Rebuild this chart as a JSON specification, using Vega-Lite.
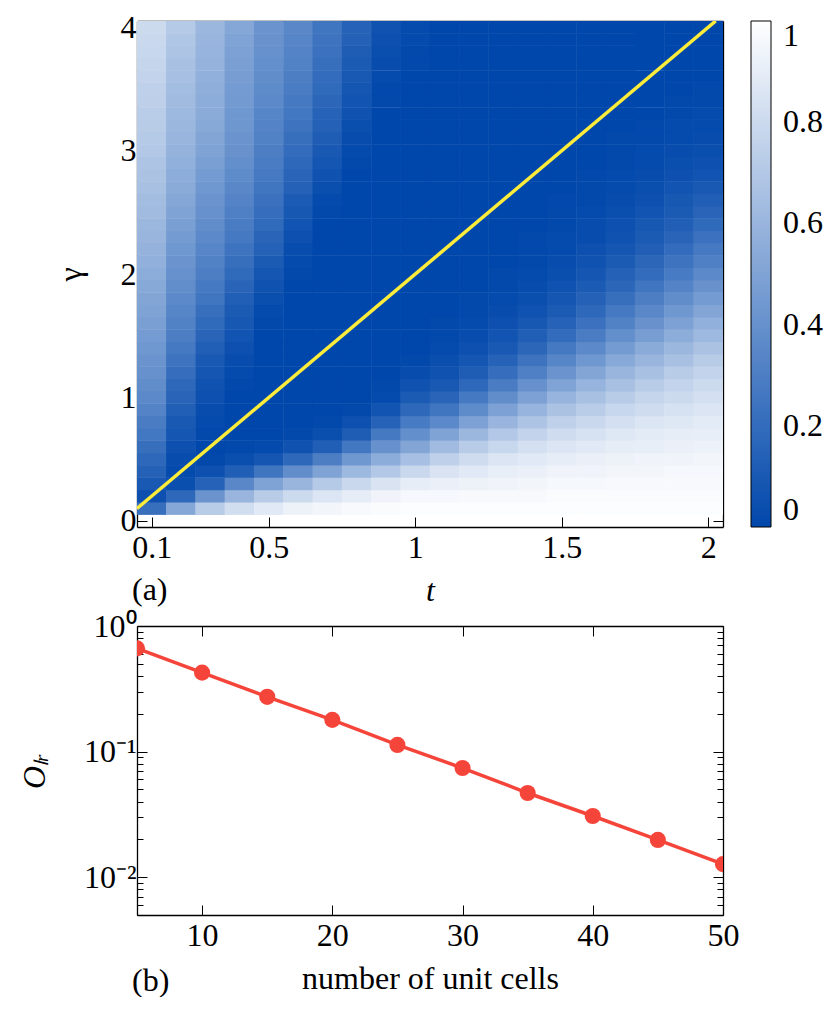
{
"$schema": "https://vega.github.io/schema/vega-lite/v6.json",
"padding": {"left": 18, "top": 11, "right": 0, "bottom": 0},
"background": "white",
"spacing": 4,
"config": {
 "font": "Liberation Serif",
 "view": {"stroke": null},
 "axis": {"grid": false, "domainColor": "black", "domainWidth": 1.3, "tickColor": "black", "tickWidth": 1, "labelFont": "Liberation Serif", "labelFontSize": 32, "labelColor": "black", "titleFont": "Liberation Serif", "titleFontSize": 32, "titleFontWeight": "normal", "titleColor": "black", "zindex": 2, "labelFlush": false, "labelOverlap": false},
 "title": {"font": "Liberation Serif", "fontSize": 32, "fontWeight": "normal", "color": "black"}
},
"datasets": {
"decay": [{"n":5,"o":0.664},{"n":10,"o":0.425},{"n":15,"o":0.273},{"n":20,"o":0.179},{"n":25,"o":0.113},{"n":30,"o":0.074},{"n":35,"o":0.0468},{"n":40,"o":0.0307},{"n":45,"o":0.0198},{"n":50,"o":0.0127}],
"diag": [{"t":0.05,"g":0.1},{"t":2.025,"g":4.05}],
"heat": [
{"t":0.1,"g":0.1,"v":0.22},{"t":0.1,"g":0.2,"v":0.05},{"t":0.1,"g":0.3,"v":0.1},{"t":0.1,"g":0.4,"v":0.14},{"t":0.1,"g":0.5,"v":0.18},{"t":0.1,"g":0.6,"v":0.22},{"t":0.1,"g":0.7,"v":0.26},{"t":0.1,"g":0.8,"v":0.29},{"t":0.1,"g":0.9,"v":0.33},{"t":0.1,"g":1,"v":0.36},
{"t":0.1,"g":1.1,"v":0.38},{"t":0.1,"g":1.2,"v":0.4},{"t":0.1,"g":1.3,"v":0.42},{"t":0.1,"g":1.4,"v":0.44},{"t":0.1,"g":1.5,"v":0.46},{"t":0.1,"g":1.6,"v":0.48},{"t":0.1,"g":1.7,"v":0.5},{"t":0.1,"g":1.8,"v":0.51},{"t":0.1,"g":1.9,"v":0.53},{"t":0.1,"g":2,"v":0.55},
{"t":0.1,"g":2.1,"v":0.57},{"t":0.1,"g":2.2,"v":0.58},{"t":0.1,"g":2.3,"v":0.6},{"t":0.1,"g":2.4,"v":0.61},{"t":0.1,"g":2.5,"v":0.63},{"t":0.1,"g":2.6,"v":0.64},{"t":0.1,"g":2.7,"v":0.66},{"t":0.1,"g":2.8,"v":0.67},{"t":0.1,"g":2.9,"v":0.68},{"t":0.1,"g":3,"v":0.7},
{"t":0.1,"g":3.1,"v":0.71},{"t":0.1,"g":3.2,"v":0.72},{"t":0.1,"g":3.3,"v":0.73},{"t":0.1,"g":3.4,"v":0.74},{"t":0.1,"g":3.5,"v":0.75},{"t":0.1,"g":3.6,"v":0.76},{"t":0.1,"g":3.7,"v":0.77},{"t":0.1,"g":3.8,"v":0.78},{"t":0.1,"g":3.9,"v":0.79},{"t":0.1,"g":4,"v":0.8},
{"t":0.2,"g":0.1,"v":0.52},{"t":0.2,"g":0.2,"v":0.18},{"t":0.2,"g":0.3,"v":0.04},{"t":0.2,"g":0.4,"v":0.02},{"t":0.2,"g":0.5,"v":0.03},{"t":0.2,"g":0.6,"v":0.05},{"t":0.2,"g":0.7,"v":0.08},{"t":0.2,"g":0.8,"v":0.1},{"t":0.2,"g":0.9,"v":0.13},{"t":0.2,"g":1,"v":0.16},
{"t":0.2,"g":1.1,"v":0.18},{"t":0.2,"g":1.2,"v":0.21},{"t":0.2,"g":1.3,"v":0.24},{"t":0.2,"g":1.4,"v":0.27},{"t":0.2,"g":1.5,"v":0.3},{"t":0.2,"g":1.6,"v":0.32},{"t":0.2,"g":1.7,"v":0.34},{"t":0.2,"g":1.8,"v":0.36},{"t":0.2,"g":1.9,"v":0.38},{"t":0.2,"g":2,"v":0.4},
{"t":0.2,"g":2.1,"v":0.42},{"t":0.2,"g":2.2,"v":0.44},{"t":0.2,"g":2.3,"v":0.46},{"t":0.2,"g":2.4,"v":0.48},{"t":0.2,"g":2.5,"v":0.5},{"t":0.2,"g":2.6,"v":0.52},{"t":0.2,"g":2.7,"v":0.54},{"t":0.2,"g":2.8,"v":0.55},{"t":0.2,"g":2.9,"v":0.57},{"t":0.2,"g":3,"v":0.58},
{"t":0.2,"g":3.1,"v":0.6},{"t":0.2,"g":3.2,"v":0.61},{"t":0.2,"g":3.3,"v":0.62},{"t":0.2,"g":3.4,"v":0.63},{"t":0.2,"g":3.5,"v":0.64},{"t":0.2,"g":3.6,"v":0.65},{"t":0.2,"g":3.7,"v":0.66},{"t":0.2,"g":3.8,"v":0.68},{"t":0.2,"g":3.9,"v":0.69},{"t":0.2,"g":4,"v":0.71},
{"t":0.3,"g":0.1,"v":0.72},{"t":0.3,"g":0.2,"v":0.42},{"t":0.3,"g":0.3,"v":0.15},{"t":0.3,"g":0.4,"v":0.05},{"t":0.3,"g":0.5,"v":0.01},{"t":0.3,"g":0.6,"v":0},{"t":0.3,"g":0.7,"v":0.01},{"t":0.3,"g":0.8,"v":0.02},{"t":0.3,"g":0.9,"v":0.03},{"t":0.3,"g":1,"v":0.05},
{"t":0.3,"g":1.1,"v":0.06},{"t":0.3,"g":1.2,"v":0.08},{"t":0.3,"g":1.3,"v":0.1},{"t":0.3,"g":1.4,"v":0.13},{"t":0.3,"g":1.5,"v":0.16},{"t":0.3,"g":1.6,"v":0.19},{"t":0.3,"g":1.7,"v":0.22},{"t":0.3,"g":1.8,"v":0.25},{"t":0.3,"g":1.9,"v":0.27},{"t":0.3,"g":2,"v":0.3},
{"t":0.3,"g":2.1,"v":0.32},{"t":0.3,"g":2.2,"v":0.34},{"t":0.3,"g":2.3,"v":0.36},{"t":0.3,"g":2.4,"v":0.38},{"t":0.3,"g":2.5,"v":0.4},{"t":0.3,"g":2.6,"v":0.42},{"t":0.3,"g":2.7,"v":0.44},{"t":0.3,"g":2.8,"v":0.46},{"t":0.3,"g":2.9,"v":0.48},{"t":0.3,"g":3,"v":0.5},
{"t":0.3,"g":3.1,"v":0.51},{"t":0.3,"g":3.2,"v":0.53},{"t":0.3,"g":3.3,"v":0.54},{"t":0.3,"g":3.4,"v":0.55},{"t":0.3,"g":3.5,"v":0.56},{"t":0.3,"g":3.6,"v":0.57},{"t":0.3,"g":3.7,"v":0.58},{"t":0.3,"g":3.8,"v":0.59},{"t":0.3,"g":3.9,"v":0.6},{"t":0.3,"g":4,"v":0.61},
{"t":0.4,"g":0.1,"v":0.82},{"t":0.4,"g":0.2,"v":0.6},{"t":0.4,"g":0.3,"v":0.35},{"t":0.4,"g":0.4,"v":0.13},{"t":0.4,"g":0.5,"v":0.04},{"t":0.4,"g":0.6,"v":0.01},{"t":0.4,"g":0.7,"v":0},{"t":0.4,"g":0.8,"v":0},{"t":0.4,"g":0.9,"v":0},{"t":0.4,"g":1,"v":0},
{"t":0.4,"g":1.1,"v":0.01},{"t":0.4,"g":1.2,"v":0.02},{"t":0.4,"g":1.3,"v":0.03},{"t":0.4,"g":1.4,"v":0.05},{"t":0.4,"g":1.5,"v":0.07},{"t":0.4,"g":1.6,"v":0.09},{"t":0.4,"g":1.7,"v":0.11},{"t":0.4,"g":1.8,"v":0.13},{"t":0.4,"g":1.9,"v":0.16},{"t":0.4,"g":2,"v":0.19},
{"t":0.4,"g":2.1,"v":0.22},{"t":0.4,"g":2.2,"v":0.24},{"t":0.4,"g":2.3,"v":0.27},{"t":0.4,"g":2.4,"v":0.29},{"t":0.4,"g":2.5,"v":0.31},{"t":0.4,"g":2.6,"v":0.33},{"t":0.4,"g":2.7,"v":0.35},{"t":0.4,"g":2.8,"v":0.37},{"t":0.4,"g":2.9,"v":0.39},{"t":0.4,"g":3,"v":0.41},
{"t":0.4,"g":3.1,"v":0.42},{"t":0.4,"g":3.2,"v":0.43},{"t":0.4,"g":3.3,"v":0.44},{"t":0.4,"g":3.4,"v":0.45},{"t":0.4,"g":3.5,"v":0.46},{"t":0.4,"g":3.6,"v":0.47},{"t":0.4,"g":3.7,"v":0.48},{"t":0.4,"g":3.8,"v":0.49},{"t":0.4,"g":3.9,"v":0.5},{"t":0.4,"g":4,"v":0.52},
{"t":0.5,"g":0.1,"v":0.88},{"t":0.5,"g":0.2,"v":0.72},{"t":0.5,"g":0.3,"v":0.5},{"t":0.5,"g":0.4,"v":0.25},{"t":0.5,"g":0.5,"v":0.08},{"t":0.5,"g":0.6,"v":0.02},{"t":0.5,"g":0.7,"v":0},{"t":0.5,"g":0.8,"v":0},{"t":0.5,"g":0.9,"v":0},{"t":0.5,"g":1,"v":0},
{"t":0.5,"g":1.1,"v":0},{"t":0.5,"g":1.2,"v":0},{"t":0.5,"g":1.3,"v":0},{"t":0.5,"g":1.4,"v":0},{"t":0.5,"g":1.5,"v":0},{"t":0.5,"g":1.6,"v":0.01},{"t":0.5,"g":1.7,"v":0.02},{"t":0.5,"g":1.8,"v":0.04},{"t":0.5,"g":1.9,"v":0.06},{"t":0.5,"g":2,"v":0.08},
{"t":0.5,"g":2.1,"v":0.11},{"t":0.5,"g":2.2,"v":0.14},{"t":0.5,"g":2.3,"v":0.16},{"t":0.5,"g":2.4,"v":0.19},{"t":0.5,"g":2.5,"v":0.21},{"t":0.5,"g":2.6,"v":0.23},{"t":0.5,"g":2.7,"v":0.25},{"t":0.5,"g":2.8,"v":0.27},{"t":0.5,"g":2.9,"v":0.29},{"t":0.5,"g":3,"v":0.3},
{"t":0.5,"g":3.1,"v":0.32},{"t":0.5,"g":3.2,"v":0.33},{"t":0.5,"g":3.3,"v":0.34},{"t":0.5,"g":3.4,"v":0.36},{"t":0.5,"g":3.5,"v":0.37},{"t":0.5,"g":3.6,"v":0.38},{"t":0.5,"g":3.7,"v":0.39},{"t":0.5,"g":3.8,"v":0.4},{"t":0.5,"g":3.9,"v":0.41},{"t":0.5,"g":4,"v":0.42},
{"t":0.6,"g":0.1,"v":0.93},{"t":0.6,"g":0.2,"v":0.8},{"t":0.6,"g":0.3,"v":0.6},{"t":0.6,"g":0.4,"v":0.38},{"t":0.6,"g":0.5,"v":0.18},{"t":0.6,"g":0.6,"v":0.06},{"t":0.6,"g":0.7,"v":0.01},{"t":0.6,"g":0.8,"v":0},{"t":0.6,"g":0.9,"v":0},{"t":0.6,"g":1,"v":0},
{"t":0.6,"g":1.1,"v":0},{"t":0.6,"g":1.2,"v":0},{"t":0.6,"g":1.3,"v":0},{"t":0.6,"g":1.4,"v":0},{"t":0.6,"g":1.5,"v":0},{"t":0.6,"g":1.6,"v":0},{"t":0.6,"g":1.7,"v":0},{"t":0.6,"g":1.8,"v":0},{"t":0.6,"g":1.9,"v":0},{"t":0.6,"g":2,"v":0.01},
{"t":0.6,"g":2.1,"v":0.02},{"t":0.6,"g":2.2,"v":0.03},{"t":0.6,"g":2.3,"v":0.05},{"t":0.6,"g":2.4,"v":0.07},{"t":0.6,"g":2.5,"v":0.09},{"t":0.6,"g":2.6,"v":0.11},{"t":0.6,"g":2.7,"v":0.14},{"t":0.6,"g":2.8,"v":0.16},{"t":0.6,"g":2.9,"v":0.18},{"t":0.6,"g":3,"v":0.2},
{"t":0.6,"g":3.1,"v":0.22},{"t":0.6,"g":3.2,"v":0.24},{"t":0.6,"g":3.3,"v":0.26},{"t":0.6,"g":3.4,"v":0.27},{"t":0.6,"g":3.5,"v":0.29},{"t":0.6,"g":3.6,"v":0.3},{"t":0.6,"g":3.7,"v":0.32},{"t":0.6,"g":3.8,"v":0.33},{"t":0.6,"g":3.9,"v":0.34},{"t":0.6,"g":4,"v":0.35},
{"t":0.7,"g":0.1,"v":0.95},{"t":0.7,"g":0.2,"v":0.86},{"t":0.7,"g":0.3,"v":0.71},{"t":0.7,"g":0.4,"v":0.5},{"t":0.7,"g":0.5,"v":0.3},{"t":0.7,"g":0.6,"v":0.13},{"t":0.7,"g":0.7,"v":0.04},{"t":0.7,"g":0.8,"v":0.01},{"t":0.7,"g":0.9,"v":0},{"t":0.7,"g":1,"v":0},
{"t":0.7,"g":1.1,"v":0},{"t":0.7,"g":1.2,"v":0},{"t":0.7,"g":1.3,"v":0},{"t":0.7,"g":1.4,"v":0},{"t":0.7,"g":1.5,"v":0},{"t":0.7,"g":1.6,"v":0},{"t":0.7,"g":1.7,"v":0},{"t":0.7,"g":1.8,"v":0},{"t":0.7,"g":1.9,"v":0},{"t":0.7,"g":2,"v":0},
{"t":0.7,"g":2.1,"v":0},{"t":0.7,"g":2.2,"v":0},{"t":0.7,"g":2.3,"v":0},{"t":0.7,"g":2.4,"v":0},{"t":0.7,"g":2.5,"v":0.01},{"t":0.7,"g":2.6,"v":0.02},{"t":0.7,"g":2.7,"v":0.04},{"t":0.7,"g":2.8,"v":0.06},{"t":0.7,"g":2.9,"v":0.08},{"t":0.7,"g":3,"v":0.1},
{"t":0.7,"g":3.1,"v":0.12},{"t":0.7,"g":3.2,"v":0.14},{"t":0.7,"g":3.3,"v":0.15},{"t":0.7,"g":3.4,"v":0.17},{"t":0.7,"g":3.5,"v":0.19},{"t":0.7,"g":3.6,"v":0.2},{"t":0.7,"g":3.7,"v":0.22},{"t":0.7,"g":3.8,"v":0.23},{"t":0.7,"g":3.9,"v":0.24},{"t":0.7,"g":4,"v":0.25},
{"t":0.8,"g":0.1,"v":0.97},{"t":0.8,"g":0.2,"v":0.9},{"t":0.8,"g":0.3,"v":0.79},{"t":0.8,"g":0.4,"v":0.62},{"t":0.8,"g":0.5,"v":0.44},{"t":0.8,"g":0.6,"v":0.26},{"t":0.8,"g":0.7,"v":0.12},{"t":0.8,"g":0.8,"v":0.05},{"t":0.8,"g":0.9,"v":0.01},{"t":0.8,"g":1,"v":0},
{"t":0.8,"g":1.1,"v":0},{"t":0.8,"g":1.2,"v":0},{"t":0.8,"g":1.3,"v":0},{"t":0.8,"g":1.4,"v":0},{"t":0.8,"g":1.5,"v":0},{"t":0.8,"g":1.6,"v":0},{"t":0.8,"g":1.7,"v":0},{"t":0.8,"g":1.8,"v":0},{"t":0.8,"g":1.9,"v":0},{"t":0.8,"g":2,"v":0},
{"t":0.8,"g":2.1,"v":0},{"t":0.8,"g":2.2,"v":0},{"t":0.8,"g":2.3,"v":0},{"t":0.8,"g":2.4,"v":0},{"t":0.8,"g":2.5,"v":0},{"t":0.8,"g":2.6,"v":0},{"t":0.8,"g":2.7,"v":0},{"t":0.8,"g":2.8,"v":0},{"t":0.8,"g":2.9,"v":0.01},{"t":0.8,"g":3,"v":0.02},
{"t":0.8,"g":3.1,"v":0.03},{"t":0.8,"g":3.2,"v":0.04},{"t":0.8,"g":3.3,"v":0.06},{"t":0.8,"g":3.4,"v":0.07},{"t":0.8,"g":3.5,"v":0.08},{"t":0.8,"g":3.6,"v":0.1},{"t":0.8,"g":3.7,"v":0.11},{"t":0.8,"g":3.8,"v":0.12},{"t":0.8,"g":3.9,"v":0.14},{"t":0.8,"g":4,"v":0.15},
{"t":0.9,"g":0.1,"v":0.98},{"t":0.9,"g":0.2,"v":0.94},{"t":0.9,"g":0.3,"v":0.85},{"t":0.9,"g":0.4,"v":0.7},{"t":0.9,"g":0.5,"v":0.55},{"t":0.9,"g":0.6,"v":0.4},{"t":0.9,"g":0.7,"v":0.27},{"t":0.9,"g":0.8,"v":0.15},{"t":0.9,"g":0.9,"v":0.07},{"t":0.9,"g":1,"v":0.02},
{"t":0.9,"g":1.1,"v":0.01},{"t":0.9,"g":1.2,"v":0},{"t":0.9,"g":1.3,"v":0},{"t":0.9,"g":1.4,"v":0},{"t":0.9,"g":1.5,"v":0},{"t":0.9,"g":1.6,"v":0},{"t":0.9,"g":1.7,"v":0},{"t":0.9,"g":1.8,"v":0},{"t":0.9,"g":1.9,"v":0},{"t":0.9,"g":2,"v":0},
{"t":0.9,"g":2.1,"v":0},{"t":0.9,"g":2.2,"v":0},{"t":0.9,"g":2.3,"v":0},{"t":0.9,"g":2.4,"v":0},{"t":0.9,"g":2.5,"v":0},{"t":0.9,"g":2.6,"v":0},{"t":0.9,"g":2.7,"v":0},{"t":0.9,"g":2.8,"v":0},{"t":0.9,"g":2.9,"v":0},{"t":0.9,"g":3,"v":0},
{"t":0.9,"g":3.1,"v":0},{"t":0.9,"g":3.2,"v":0},{"t":0.9,"g":3.3,"v":0},{"t":0.9,"g":3.4,"v":0.01},{"t":0.9,"g":3.5,"v":0.01},{"t":0.9,"g":3.6,"v":0.02},{"t":0.9,"g":3.7,"v":0.03},{"t":0.9,"g":3.8,"v":0.04},{"t":0.9,"g":3.9,"v":0.05},{"t":0.9,"g":4,"v":0.06},
{"t":1,"g":0.1,"v":0.99},{"t":1,"g":0.2,"v":0.96},{"t":1,"g":0.3,"v":0.9},{"t":1,"g":0.4,"v":0.79},{"t":1,"g":0.5,"v":0.65},{"t":1,"g":0.6,"v":0.51},{"t":1,"g":0.7,"v":0.39},{"t":1,"g":0.8,"v":0.28},{"t":1,"g":0.9,"v":0.18},{"t":1,"g":1,"v":0.11},
{"t":1,"g":1.1,"v":0.06},{"t":1,"g":1.2,"v":0.03},{"t":1,"g":1.3,"v":0.01},{"t":1,"g":1.4,"v":0},{"t":1,"g":1.5,"v":0},{"t":1,"g":1.6,"v":0},{"t":1,"g":1.7,"v":0},{"t":1,"g":1.8,"v":0},{"t":1,"g":1.9,"v":0},{"t":1,"g":2,"v":0},
{"t":1,"g":2.1,"v":0},{"t":1,"g":2.2,"v":0},{"t":1,"g":2.3,"v":0},{"t":1,"g":2.4,"v":0},{"t":1,"g":2.5,"v":0},{"t":1,"g":2.6,"v":0},{"t":1,"g":2.7,"v":0},{"t":1,"g":2.8,"v":0},{"t":1,"g":2.9,"v":0},{"t":1,"g":3,"v":0},
{"t":1,"g":3.1,"v":0},{"t":1,"g":3.2,"v":0},{"t":1,"g":3.3,"v":0},{"t":1,"g":3.4,"v":0},{"t":1,"g":3.5,"v":0},{"t":1,"g":3.6,"v":0},{"t":1,"g":3.7,"v":0.01},{"t":1,"g":3.8,"v":0.01},{"t":1,"g":3.9,"v":0.02},{"t":1,"g":4,"v":0.02},
{"t":1.1,"g":0.1,"v":0.99},{"t":1.1,"g":0.2,"v":0.96},{"t":1.1,"g":0.3,"v":0.92},{"t":1.1,"g":0.4,"v":0.85},{"t":1.1,"g":0.5,"v":0.75},{"t":1.1,"g":0.6,"v":0.63},{"t":1.1,"g":0.7,"v":0.5},{"t":1.1,"g":0.8,"v":0.36},{"t":1.1,"g":0.9,"v":0.25},{"t":1.1,"g":1,"v":0.16},
{"t":1.1,"g":1.1,"v":0.1},{"t":1.1,"g":1.2,"v":0.06},{"t":1.1,"g":1.3,"v":0.04},{"t":1.1,"g":1.4,"v":0.02},{"t":1.1,"g":1.5,"v":0.01},{"t":1.1,"g":1.6,"v":0.01},{"t":1.1,"g":1.7,"v":0},{"t":1.1,"g":1.8,"v":0},{"t":1.1,"g":1.9,"v":0},{"t":1.1,"g":2,"v":0},
{"t":1.1,"g":2.1,"v":0},{"t":1.1,"g":2.2,"v":0},{"t":1.1,"g":2.3,"v":0},{"t":1.1,"g":2.4,"v":0},{"t":1.1,"g":2.5,"v":0},{"t":1.1,"g":2.6,"v":0},{"t":1.1,"g":2.7,"v":0},{"t":1.1,"g":2.8,"v":0},{"t":1.1,"g":2.9,"v":0},{"t":1.1,"g":3,"v":0},
{"t":1.1,"g":3.1,"v":0},{"t":1.1,"g":3.2,"v":0},{"t":1.1,"g":3.3,"v":0},{"t":1.1,"g":3.4,"v":0},{"t":1.1,"g":3.5,"v":0},{"t":1.1,"g":3.6,"v":0},{"t":1.1,"g":3.7,"v":0},{"t":1.1,"g":3.8,"v":0},{"t":1.1,"g":3.9,"v":0},{"t":1.1,"g":4,"v":0},
{"t":1.2,"g":0.1,"v":0.99},{"t":1.2,"g":0.2,"v":0.97},{"t":1.2,"g":0.3,"v":0.93},{"t":1.2,"g":0.4,"v":0.88},{"t":1.2,"g":0.5,"v":0.81},{"t":1.2,"g":0.6,"v":0.72},{"t":1.2,"g":0.7,"v":0.61},{"t":1.2,"g":0.8,"v":0.49},{"t":1.2,"g":0.9,"v":0.37},{"t":1.2,"g":1,"v":0.27},
{"t":1.2,"g":1.1,"v":0.18},{"t":1.2,"g":1.2,"v":0.12},{"t":1.2,"g":1.3,"v":0.08},{"t":1.2,"g":1.4,"v":0.05},{"t":1.2,"g":1.5,"v":0.03},{"t":1.2,"g":1.6,"v":0.02},{"t":1.2,"g":1.7,"v":0.01},{"t":1.2,"g":1.8,"v":0.01},{"t":1.2,"g":1.9,"v":0},{"t":1.2,"g":2,"v":0},
{"t":1.2,"g":2.1,"v":0},{"t":1.2,"g":2.2,"v":0},{"t":1.2,"g":2.3,"v":0},{"t":1.2,"g":2.4,"v":0},{"t":1.2,"g":2.5,"v":0},{"t":1.2,"g":2.6,"v":0},{"t":1.2,"g":2.7,"v":0},{"t":1.2,"g":2.8,"v":0},{"t":1.2,"g":2.9,"v":0},{"t":1.2,"g":3,"v":0},
{"t":1.2,"g":3.1,"v":0},{"t":1.2,"g":3.2,"v":0},{"t":1.2,"g":3.3,"v":0},{"t":1.2,"g":3.4,"v":0},{"t":1.2,"g":3.5,"v":0},{"t":1.2,"g":3.6,"v":0},{"t":1.2,"g":3.7,"v":0},{"t":1.2,"g":3.8,"v":0},{"t":1.2,"g":3.9,"v":0},{"t":1.2,"g":4,"v":0},
{"t":1.3,"g":0.1,"v":0.99},{"t":1.3,"g":0.2,"v":0.97},{"t":1.3,"g":0.3,"v":0.94},{"t":1.3,"g":0.4,"v":0.91},{"t":1.3,"g":0.5,"v":0.86},{"t":1.3,"g":0.6,"v":0.78},{"t":1.3,"g":0.7,"v":0.7},{"t":1.3,"g":0.8,"v":0.6},{"t":1.3,"g":0.9,"v":0.49},{"t":1.3,"g":1,"v":0.38},
{"t":1.3,"g":1.1,"v":0.29},{"t":1.3,"g":1.2,"v":0.21},{"t":1.3,"g":1.3,"v":0.15},{"t":1.3,"g":1.4,"v":0.1},{"t":1.3,"g":1.5,"v":0.07},{"t":1.3,"g":1.6,"v":0.05},{"t":1.3,"g":1.7,"v":0.03},{"t":1.3,"g":1.8,"v":0.02},{"t":1.3,"g":1.9,"v":0.01},{"t":1.3,"g":2,"v":0.01},
{"t":1.3,"g":2.1,"v":0},{"t":1.3,"g":2.2,"v":0},{"t":1.3,"g":2.3,"v":0},{"t":1.3,"g":2.4,"v":0},{"t":1.3,"g":2.5,"v":0},{"t":1.3,"g":2.6,"v":0},{"t":1.3,"g":2.7,"v":0},{"t":1.3,"g":2.8,"v":0},{"t":1.3,"g":2.9,"v":0},{"t":1.3,"g":3,"v":0},
{"t":1.3,"g":3.1,"v":0},{"t":1.3,"g":3.2,"v":0},{"t":1.3,"g":3.3,"v":0},{"t":1.3,"g":3.4,"v":0},{"t":1.3,"g":3.5,"v":0},{"t":1.3,"g":3.6,"v":0},{"t":1.3,"g":3.7,"v":0},{"t":1.3,"g":3.8,"v":0},{"t":1.3,"g":3.9,"v":0},{"t":1.3,"g":4,"v":0},
{"t":1.4,"g":0.1,"v":0.99},{"t":1.4,"g":0.2,"v":0.97},{"t":1.4,"g":0.3,"v":0.95},{"t":1.4,"g":0.4,"v":0.92},{"t":1.4,"g":0.5,"v":0.88},{"t":1.4,"g":0.6,"v":0.83},{"t":1.4,"g":0.7,"v":0.76},{"t":1.4,"g":0.8,"v":0.68},{"t":1.4,"g":0.9,"v":0.59},{"t":1.4,"g":1,"v":0.49},
{"t":1.4,"g":1.1,"v":0.4},{"t":1.4,"g":1.2,"v":0.31},{"t":1.4,"g":1.3,"v":0.24},{"t":1.4,"g":1.4,"v":0.17},{"t":1.4,"g":1.5,"v":0.13},{"t":1.4,"g":1.6,"v":0.09},{"t":1.4,"g":1.7,"v":0.06},{"t":1.4,"g":1.8,"v":0.04},{"t":1.4,"g":1.9,"v":0.03},{"t":1.4,"g":2,"v":0.02},
{"t":1.4,"g":2.1,"v":0.01},{"t":1.4,"g":2.2,"v":0.01},{"t":1.4,"g":2.3,"v":0.01},{"t":1.4,"g":2.4,"v":0},{"t":1.4,"g":2.5,"v":0},{"t":1.4,"g":2.6,"v":0},{"t":1.4,"g":2.7,"v":0},{"t":1.4,"g":2.8,"v":0},{"t":1.4,"g":2.9,"v":0},{"t":1.4,"g":3,"v":0},
{"t":1.4,"g":3.1,"v":0},{"t":1.4,"g":3.2,"v":0},{"t":1.4,"g":3.3,"v":0},{"t":1.4,"g":3.4,"v":0},{"t":1.4,"g":3.5,"v":0},{"t":1.4,"g":3.6,"v":0},{"t":1.4,"g":3.7,"v":0},{"t":1.4,"g":3.8,"v":0},{"t":1.4,"g":3.9,"v":0},{"t":1.4,"g":4,"v":0},
{"t":1.5,"g":0.1,"v":0.99},{"t":1.5,"g":0.2,"v":0.98},{"t":1.5,"g":0.3,"v":0.96},{"t":1.5,"g":0.4,"v":0.94},{"t":1.5,"g":0.5,"v":0.9},{"t":1.5,"g":0.6,"v":0.86},{"t":1.5,"g":0.7,"v":0.81},{"t":1.5,"g":0.8,"v":0.75},{"t":1.5,"g":0.9,"v":0.67},{"t":1.5,"g":1,"v":0.59},
{"t":1.5,"g":1.1,"v":0.5},{"t":1.5,"g":1.2,"v":0.42},{"t":1.5,"g":1.3,"v":0.34},{"t":1.5,"g":1.4,"v":0.27},{"t":1.5,"g":1.5,"v":0.2},{"t":1.5,"g":1.6,"v":0.15},{"t":1.5,"g":1.7,"v":0.11},{"t":1.5,"g":1.8,"v":0.08},{"t":1.5,"g":1.9,"v":0.06},{"t":1.5,"g":2,"v":0.04},
{"t":1.5,"g":2.1,"v":0.03},{"t":1.5,"g":2.2,"v":0.02},{"t":1.5,"g":2.3,"v":0.02},{"t":1.5,"g":2.4,"v":0.01},{"t":1.5,"g":2.5,"v":0.01},{"t":1.5,"g":2.6,"v":0.01},{"t":1.5,"g":2.7,"v":0},{"t":1.5,"g":2.8,"v":0},{"t":1.5,"g":2.9,"v":0},{"t":1.5,"g":3,"v":0},
{"t":1.5,"g":3.1,"v":0},{"t":1.5,"g":3.2,"v":0},{"t":1.5,"g":3.3,"v":0},{"t":1.5,"g":3.4,"v":0},{"t":1.5,"g":3.5,"v":0},{"t":1.5,"g":3.6,"v":0},{"t":1.5,"g":3.7,"v":0},{"t":1.5,"g":3.8,"v":0},{"t":1.5,"g":3.9,"v":0},{"t":1.5,"g":4,"v":0},
{"t":1.6,"g":0.1,"v":0.99},{"t":1.6,"g":0.2,"v":0.98},{"t":1.6,"g":0.3,"v":0.96},{"t":1.6,"g":0.4,"v":0.94},{"t":1.6,"g":0.5,"v":0.92},{"t":1.6,"g":0.6,"v":0.88},{"t":1.6,"g":0.7,"v":0.84},{"t":1.6,"g":0.8,"v":0.79},{"t":1.6,"g":0.9,"v":0.73},{"t":1.6,"g":1,"v":0.66},
{"t":1.6,"g":1.1,"v":0.59},{"t":1.6,"g":1.2,"v":0.51},{"t":1.6,"g":1.3,"v":0.44},{"t":1.6,"g":1.4,"v":0.36},{"t":1.6,"g":1.5,"v":0.29},{"t":1.6,"g":1.6,"v":0.23},{"t":1.6,"g":1.7,"v":0.18},{"t":1.6,"g":1.8,"v":0.14},{"t":1.6,"g":1.9,"v":0.11},{"t":1.6,"g":2,"v":0.08},
{"t":1.6,"g":2.1,"v":0.06},{"t":1.6,"g":2.2,"v":0.05},{"t":1.6,"g":2.3,"v":0.03},{"t":1.6,"g":2.4,"v":0.03},{"t":1.6,"g":2.5,"v":0.02},{"t":1.6,"g":2.6,"v":0.01},{"t":1.6,"g":2.7,"v":0.01},{"t":1.6,"g":2.8,"v":0.01},{"t":1.6,"g":2.9,"v":0},{"t":1.6,"g":3,"v":0},
{"t":1.6,"g":3.1,"v":0},{"t":1.6,"g":3.2,"v":0},{"t":1.6,"g":3.3,"v":0},{"t":1.6,"g":3.4,"v":0},{"t":1.6,"g":3.5,"v":0},{"t":1.6,"g":3.6,"v":0},{"t":1.6,"g":3.7,"v":0},{"t":1.6,"g":3.8,"v":0},{"t":1.6,"g":3.9,"v":0},{"t":1.6,"g":4,"v":0},
{"t":1.7,"g":0.1,"v":0.99},{"t":1.7,"g":0.2,"v":0.98},{"t":1.7,"g":0.3,"v":0.97},{"t":1.7,"g":0.4,"v":0.95},{"t":1.7,"g":0.5,"v":0.93},{"t":1.7,"g":0.6,"v":0.9},{"t":1.7,"g":0.7,"v":0.87},{"t":1.7,"g":0.8,"v":0.83},{"t":1.7,"g":0.9,"v":0.78},{"t":1.7,"g":1,"v":0.72},
{"t":1.7,"g":1.1,"v":0.66},{"t":1.7,"g":1.2,"v":0.6},{"t":1.7,"g":1.3,"v":0.53},{"t":1.7,"g":1.4,"v":0.46},{"t":1.7,"g":1.5,"v":0.39},{"t":1.7,"g":1.6,"v":0.32},{"t":1.7,"g":1.7,"v":0.27},{"t":1.7,"g":1.8,"v":0.22},{"t":1.7,"g":1.9,"v":0.17},{"t":1.7,"g":2,"v":0.14},
{"t":1.7,"g":2.1,"v":0.11},{"t":1.7,"g":2.2,"v":0.08},{"t":1.7,"g":2.3,"v":0.06},{"t":1.7,"g":2.4,"v":0.05},{"t":1.7,"g":2.5,"v":0.04},{"t":1.7,"g":2.6,"v":0.03},{"t":1.7,"g":2.7,"v":0.02},{"t":1.7,"g":2.8,"v":0.02},{"t":1.7,"g":2.9,"v":0.01},{"t":1.7,"g":3,"v":0.01},
{"t":1.7,"g":3.1,"v":0.01},{"t":1.7,"g":3.2,"v":0},{"t":1.7,"g":3.3,"v":0},{"t":1.7,"g":3.4,"v":0},{"t":1.7,"g":3.5,"v":0},{"t":1.7,"g":3.6,"v":0},{"t":1.7,"g":3.7,"v":0},{"t":1.7,"g":3.8,"v":0},{"t":1.7,"g":3.9,"v":0},{"t":1.7,"g":4,"v":0},
{"t":1.8,"g":0.1,"v":0.99},{"t":1.8,"g":0.2,"v":0.98},{"t":1.8,"g":0.3,"v":0.97},{"t":1.8,"g":0.4,"v":0.95},{"t":1.8,"g":0.5,"v":0.94},{"t":1.8,"g":0.6,"v":0.91},{"t":1.8,"g":0.7,"v":0.89},{"t":1.8,"g":0.8,"v":0.86},{"t":1.8,"g":0.9,"v":0.81},{"t":1.8,"g":1,"v":0.77},
{"t":1.8,"g":1.1,"v":0.72},{"t":1.8,"g":1.2,"v":0.66},{"t":1.8,"g":1.3,"v":0.6},{"t":1.8,"g":1.4,"v":0.54},{"t":1.8,"g":1.5,"v":0.47},{"t":1.8,"g":1.6,"v":0.41},{"t":1.8,"g":1.7,"v":0.35},{"t":1.8,"g":1.8,"v":0.3},{"t":1.8,"g":1.9,"v":0.25},{"t":1.8,"g":2,"v":0.2},
{"t":1.8,"g":2.1,"v":0.17},{"t":1.8,"g":2.2,"v":0.13},{"t":1.8,"g":2.3,"v":0.11},{"t":1.8,"g":2.4,"v":0.09},{"t":1.8,"g":2.5,"v":0.07},{"t":1.8,"g":2.6,"v":0.05},{"t":1.8,"g":2.7,"v":0.04},{"t":1.8,"g":2.8,"v":0.03},{"t":1.8,"g":2.9,"v":0.02},{"t":1.8,"g":3,"v":0.02},
{"t":1.8,"g":3.1,"v":0.01},{"t":1.8,"g":3.2,"v":0.01},{"t":1.8,"g":3.3,"v":0},{"t":1.8,"g":3.4,"v":0},{"t":1.8,"g":3.5,"v":0},{"t":1.8,"g":3.6,"v":0},{"t":1.8,"g":3.7,"v":0},{"t":1.8,"g":3.8,"v":0},{"t":1.8,"g":3.9,"v":0},{"t":1.8,"g":4,"v":0},
{"t":1.9,"g":0.1,"v":0.99},{"t":1.9,"g":0.2,"v":0.98},{"t":1.9,"g":0.3,"v":0.97},{"t":1.9,"g":0.4,"v":0.96},{"t":1.9,"g":0.5,"v":0.94},{"t":1.9,"g":0.6,"v":0.92},{"t":1.9,"g":0.7,"v":0.9},{"t":1.9,"g":0.8,"v":0.87},{"t":1.9,"g":0.9,"v":0.84},{"t":1.9,"g":1,"v":0.8},
{"t":1.9,"g":1.1,"v":0.76},{"t":1.9,"g":1.2,"v":0.72},{"t":1.9,"g":1.3,"v":0.66},{"t":1.9,"g":1.4,"v":0.61},{"t":1.9,"g":1.5,"v":0.55},{"t":1.9,"g":1.6,"v":0.49},{"t":1.9,"g":1.7,"v":0.44},{"t":1.9,"g":1.8,"v":0.38},{"t":1.9,"g":1.9,"v":0.33},{"t":1.9,"g":2,"v":0.28},
{"t":1.9,"g":2.1,"v":0.24},{"t":1.9,"g":2.2,"v":0.2},{"t":1.9,"g":2.3,"v":0.16},{"t":1.9,"g":2.4,"v":0.13},{"t":1.9,"g":2.5,"v":0.11},{"t":1.9,"g":2.6,"v":0.09},{"t":1.9,"g":2.7,"v":0.07},{"t":1.9,"g":2.8,"v":0.05},{"t":1.9,"g":2.9,"v":0.04},{"t":1.9,"g":3,"v":0.03},
{"t":1.9,"g":3.1,"v":0.02},{"t":1.9,"g":3.2,"v":0.02},{"t":1.9,"g":3.3,"v":0.01},{"t":1.9,"g":3.4,"v":0.01},{"t":1.9,"g":3.5,"v":0},{"t":1.9,"g":3.6,"v":0},{"t":1.9,"g":3.7,"v":0},{"t":1.9,"g":3.8,"v":0},{"t":1.9,"g":3.9,"v":0},{"t":1.9,"g":4,"v":0},
{"t":2,"g":0.1,"v":0.99},{"t":2,"g":0.2,"v":0.98},{"t":2,"g":0.3,"v":0.97},{"t":2,"g":0.4,"v":0.96},{"t":2,"g":0.5,"v":0.95},{"t":2,"g":0.6,"v":0.93},{"t":2,"g":0.7,"v":0.91},{"t":2,"g":0.8,"v":0.89},{"t":2,"g":0.9,"v":0.86},{"t":2,"g":1,"v":0.83},
{"t":2,"g":1.1,"v":0.8},{"t":2,"g":1.2,"v":0.76},{"t":2,"g":1.3,"v":0.72},{"t":2,"g":1.4,"v":0.67},{"t":2,"g":1.5,"v":0.62},{"t":2,"g":1.6,"v":0.57},{"t":2,"g":1.7,"v":0.51},{"t":2,"g":1.8,"v":0.46},{"t":2,"g":1.9,"v":0.41},{"t":2,"g":2,"v":0.36},
{"t":2,"g":2.1,"v":0.31},{"t":2,"g":2.2,"v":0.27},{"t":2,"g":2.3,"v":0.23},{"t":2,"g":2.4,"v":0.19},{"t":2,"g":2.5,"v":0.16},{"t":2,"g":2.6,"v":0.13},{"t":2,"g":2.7,"v":0.1},{"t":2,"g":2.8,"v":0.07},{"t":2,"g":2.9,"v":0.05},{"t":2,"g":3,"v":0.04},
{"t":2,"g":3.1,"v":0.03},{"t":2,"g":3.2,"v":0.02},{"t":2,"g":3.3,"v":0.02},{"t":2,"g":3.4,"v":0.01},{"t":2,"g":3.5,"v":0.01},{"t":2,"g":3.6,"v":0},{"t":2,"g":3.7,"v":0},{"t":2,"g":3.8,"v":0},{"t":2,"g":3.9,"v":0},{"t":2,"g":4,"v":0}
]
},
"vconcat": [
{
 "width": 586, "height": 506,
 "title": {"text": "(a)", "orient": "bottom", "anchor": "start", "frame": "group", "offset": -31, "dx": -5},
 "layer": [
  {"data": {"name": "heat"},
   "mark": {"type": "rect", "width": 29.8, "height": 12.8, "clip": true},
   "encoding": {
    "x": {"field": "t", "type": "quantitative", "scale": {"domain": [0.05, 2.05], "nice": false, "zero": false},
          "axis": {"orient": "bottom", "values": [0.1, 0.5, 1, 1.5, 2], "format": "~g", "tickSize": -10, "labelPadding": 15, "title": "t", "titleFontStyle": "italic", "titlePadding": 12}},
    "y": {"field": "g", "type": "quantitative", "scale": {"domain": [-0.05, 4.05], "nice": false, "zero": false},
          "axis": {"orient": "left", "values": [0, 1, 2, 3, 4], "format": "~g", "tickSize": -10, "labelPadding": 11, "title": "γ", "titlePadding": 33}},
    "color": {"field": "v", "type": "quantitative", "scale": {"domain": [0, 1], "range": ["#0047ab", "#ffffff"], "interpolate": "rgb"},
          "legend": {"orient": "right", "direction": "vertical", "gradientLength": 506, "gradientThickness": 20, "values": [0, 0.2, 0.4, 0.6, 0.8, 1], "format": "~g", "labelFontSize": 32, "labelFont": "Liberation Serif", "labelColor": "black", "labelOffset": 12, "title": null, "offset": 12, "padding": 0, "gradientStrokeColor": "black", "gradientStrokeWidth": 1}}
   }},
  {"data": {"name": "diag"},
   "mark": {"type": "line", "color": "#fdec3a", "strokeWidth": 3.5, "clip": true},
   "encoding": {
    "x": {"field": "t", "type": "quantitative", "axis": {"orient": "top", "values": [0.1, 0.5, 1, 1.5, 2], "labels": false, "tickSize": -10, "title": null}},
    "y": {"field": "g", "type": "quantitative", "axis": {"orient": "right", "values": [0, 1, 2, 3, 4], "labels": false, "tickSize": -10, "title": null}}
   }}
 ],
 "resolve": {"axis": {"x": "independent", "y": "independent"}}
},
{
 "width": 586, "height": 289,
 "title": {"text": "(b)", "orient": "bottom", "anchor": "start", "frame": "group", "offset": -28, "dx": -5},
 "data": {"name": "decay"},
 "layer": [
  {"mark": {"type": "line", "color": "#f5453a", "strokeWidth": 3.5, "clip": true},
   "encoding": {
    "x": {"field": "n", "type": "quantitative", "scale": {"domain": [5, 50], "nice": false, "zero": false},
          "axis": {"orient": "bottom", "values": [10, 20, 30, 40, 50], "tickSize": -10, "labelPadding": 15, "title": "number of unit cells", "titlePadding": 12}},
    "y": {"field": "o", "type": "quantitative", "scale": {"type": "log", "domain": [0.005, 1], "nice": false},
          "axis": {"orient": "left", "values": [0.005, 0.006, 0.007, 0.008, 0.009, 0.01, 0.02, 0.03, 0.04, 0.05, 0.06, 0.07, 0.08, 0.09, 0.1, 0.2, 0.3, 0.4, 0.5, 0.6, 0.7, 0.8, 0.9, 1],
                   "labelExpr": "datum.value == 1 ? '10⁰' : datum.value == 0.1 ? '10⁻¹' : datum.value == 0.01 ? '10⁻²' : ''",
                   "tickSize": {"condition": {"test": "datum.value == 1 || datum.value == 0.1 || datum.value == 0.01", "value": -10}, "value": -6},
                   "labelPadding": 11, "title": "Oₗᵣ", "titleFontStyle": "italic", "titlePadding": 32}}
   }},
  {"mark": {"type": "point", "filled": true, "size": 260, "color": "#f5453a", "opacity": 1, "clip": true},
   "encoding": {
    "x": {"field": "n", "type": "quantitative", "axis": {"orient": "top", "values": [10, 20, 30, 40, 50], "labels": false, "tickSize": -10, "title": null}},
    "y": {"field": "o", "type": "quantitative", "axis": {"orient": "right", "values": [0.005, 0.006, 0.007, 0.008, 0.009, 0.01, 0.02, 0.03, 0.04, 0.05, 0.06, 0.07, 0.08, 0.09, 0.1, 0.2, 0.3, 0.4, 0.5, 0.6, 0.7, 0.8, 0.9, 1], "labels": false,
                   "tickSize": {"condition": {"test": "datum.value == 1 || datum.value == 0.1 || datum.value == 0.01", "value": -10}, "value": -6}, "title": null}}
   }}
 ],
 "resolve": {"axis": {"x": "independent", "y": "independent"}}
}
]
}
